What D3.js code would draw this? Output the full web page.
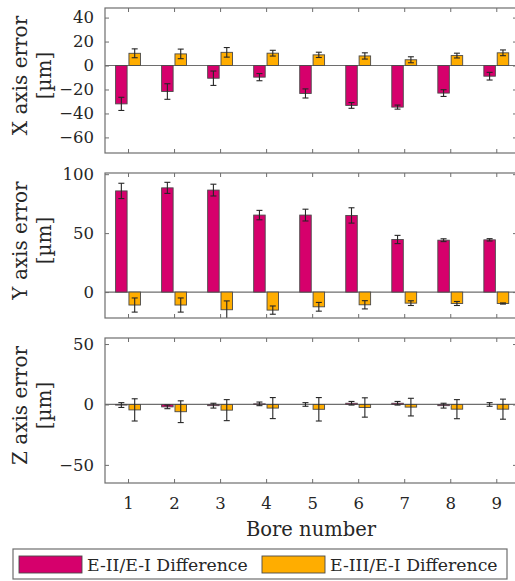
<!DOCTYPE html>
<html>
<head>
<meta charset="utf-8">
<script src="https://cdn.jsdelivr.net/npm/d3@7"></script>
<style>
  body { margin: 0; background: #fff; }
  text { font-family: "DejaVu Serif", serif; fill: #262626; }
</style>
</head>
<body>
<div id="chart"></div>
<script>
// bore numbers on the shared x axis
const bores = [1, 2, 3, 4, 5, 6, 7, 8, 9];

// X axis error [um]
const xDiff2 = [-32, -21.7, -10.6, -9.7, -23.3, -33.3, -34.7, -23, -8.9];
const xErr2  = [5.5, 6.5, 6, 3, 3.8, 2.4, 1.7, 2.8, 3.2];
const xDiff3 = [10.2, 9.7, 11, 10.3, 8.9, 8, 4.8, 8.3, 10.6];
const xErr3  = [3.7, 4, 4, 2.4, 2.2, 2.6, 2.5, 2, 2.4];

// Y axis error [um]
const yDiff2 = [85.8, 88.4, 86.5, 65.3, 65.3, 65, 44.6, 44, 44.3];
const yErr2  = [6.5, 4.7, 5, 4, 5, 6.5, 3.5, 1.2, 1];
const yDiff3 = [-11, -11, -15, -15.3, -12.5, -10.8, -9.4, -9.7, -9.7];
const yErr3  = [6, 6, 7.5, 3.5, 3.7, 3.5, 2, 1.7, 0.5];

// Z axis error [um]
const zDiff2 = [-0.5, -2, -1, 0.5, 0, 1, 1, -1, 0];
const zErr2  = [2, 1.5, 2, 1.5, 1.5, 1.5, 1.5, 2, 1.5];
const zDiff3 = [-4.5, -6, -4.7, -3, -4, -2.5, -2.2, -3.9, -3.9];
const zErr3  = [9.2, 9, 8.7, 8.7, 9.7, 8, 7.3, 7.9, 8.3];

const seriesNames = ["E-II/E-I Difference", "E-III/E-I Difference"];
const colors = ["#d6006c", "#ffad00"];

const panels = [
  {label: "X axis error", domain: [-73, 48], ticks: [-60, -40, -20, 0, 20, 40], top: 8,
   vals: [xDiff2, xDiff3], errs: [xErr2, xErr3]},
  {label: "Y axis error", domain: [-22, 101], ticks: [0, 50, 100], top: 173,
   vals: [yDiff2, yDiff3], errs: [yErr2, yErr3]},
  {label: "Z axis error", domain: [-65, 55], ticks: [-50, 0, 50], top: 338,
   vals: [zDiff2, zDiff3], errs: [zErr2, zErr3]}
];

const W = 515, H = 581;
const left = 105, right = 517, ph = 145;
const axisColor = "#6e6e6e";

const svg = d3.select("#chart").append("svg")
  .attr("width", W).attr("height", H);

const x = d3.scaleLinear().domain([0.5, 9.45]).range([left, right]);
const barW = x(0.25) - x(0);
const off = 0.145;

panels.forEach(function(p, pi) {
  const y = d3.scaleLinear().domain(p.domain).range([p.top + ph, p.top]);
  const g = svg.append("g");

  const clipId = "clip" + pi;
  svg.append("clipPath").attr("id", clipId)
    .append("rect").attr("x", left).attr("y", p.top).attr("width", right - left).attr("height", ph);

  const plot = g.append("g").attr("clip-path", `url(#${clipId})`);

  // baseline at zero
  plot.append("line")
    .attr("x1", left).attr("x2", right)
    .attr("y1", y(0)).attr("y2", y(0))
    .attr("stroke", axisColor).attr("stroke-width", 1.2);

  p.vals.forEach(function(vals, si) {
    const dx = si === 0 ? -off : off;
    plot.selectAll(".bar" + si)
      .data(bores)
      .enter().append("rect")
        .attr("x", d => x(d + dx) - barW / 2)
        .attr("y", (d, i) => Math.min(y(vals[i]), y(0)))
        .attr("width", barW)
        .attr("height", (d, i) => Math.abs(y(vals[i]) - y(0)))
        .attr("fill", colors[si])
        .attr("stroke", "#4a4a4a")
        .attr("stroke-width", 0.9);

    const errs = p.errs[si];
    const eb = plot.selectAll(".err" + si)
      .data(bores)
      .enter().append("g")
        .attr("stroke", "#262626").attr("stroke-width", 1.1);
    eb.append("line")
      .attr("x1", d => x(d + dx)).attr("x2", d => x(d + dx))
      .attr("y1", (d, i) => y(vals[i] + errs[i]))
      .attr("y2", (d, i) => y(vals[i] - errs[i]));
    eb.append("line")
      .attr("x1", d => x(d + dx) - 3).attr("x2", d => x(d + dx) + 3)
      .attr("y1", (d, i) => y(vals[i] + errs[i]))
      .attr("y2", (d, i) => y(vals[i] + errs[i]));
    eb.append("line")
      .attr("x1", d => x(d + dx) - 3).attr("x2", d => x(d + dx) + 3)
      .attr("y1", (d, i) => y(vals[i] - errs[i]))
      .attr("y2", (d, i) => y(vals[i] - errs[i]));
  });

  // box and inward ticks
  const yAxis = d3.axisLeft(y).tickValues(p.ticks).tickSize(-4).tickPadding(11);
  const ya = g.append("g").attr("transform", `translate(${left},0)`).call(yAxis);
  ya.select(".domain").remove();
  ya.selectAll("line").attr("stroke", axisColor);
  ya.selectAll("text").style("font-size", "16.5px").attr("fill", "#262626");

  const yr = g.append("g").attr("transform", `translate(${right},0)`)
    .call(d3.axisRight(y).tickValues(p.ticks).tickSize(-4).tickFormat(""));
  yr.select(".domain").remove();
  yr.selectAll("line").attr("stroke", axisColor);

  const xt = g.append("g").attr("transform", `translate(0,${p.top})`)
    .call(d3.axisTop(x).tickValues(bores).tickSize(-4).tickFormat(""));
  xt.select(".domain").remove();
  xt.selectAll("line").attr("stroke", axisColor);

  const xb = g.append("g").attr("transform", `translate(0,${p.top + ph})`)
    .call(d3.axisBottom(x).tickValues(bores).tickSize(-4)
      .tickFormat(pi === 2 ? d3.format("d") : ""));
  xb.select(".domain").remove();
  xb.selectAll("line").attr("stroke", axisColor);
  xb.selectAll("text").style("font-size", "16.5px").attr("fill", "#262626")
    .attr("y", 14);

  g.append("rect")
    .attr("x", left).attr("y", p.top)
    .attr("width", right - left).attr("height", ph)
    .attr("fill", "none").attr("stroke", axisColor).attr("stroke-width", 1.2);

  // y axis title, two lines
  const cy = p.top + ph / 2 - 5;
  const lab = g.append("text")
    .attr("transform", `translate(27,${cy}) rotate(-90)`)
    .attr("text-anchor", "middle")
    .style("font-size", "20px");
  lab.append("tspan").attr("x", 0).attr("y", 0).text(p.label);
  lab.append("tspan").attr("x", 0).attr("y", 24).text("[µm]");
});

svg.append("text")
  .attr("x", 311).attr("y", 536)
  .attr("text-anchor", "middle")
  .style("font-size", "19.5px")
  .text("Bore number");

// legend
const lg = svg.append("g");
lg.append("rect")
  .attr("x", 13).attr("y", 549).attr("width", 494).attr("height", 30)
  .attr("fill", "#fff").attr("stroke", axisColor).attr("stroke-width", 1.2);
const legX = [19, 262];
seriesNames.forEach(function(name, i) {
  lg.append("rect")
    .attr("x", legX[i]).attr("y", 556).attr("width", 63).attr("height", 17)
    .attr("fill", colors[i]).attr("stroke", "#4a4a4a").attr("stroke-width", 0.9);
  lg.append("text")
    .attr("x", legX[i] + 68).attr("y", 571)
    .style("font-size", "17.3px")
    .text(name);
});
</script>
</body>
</html>
